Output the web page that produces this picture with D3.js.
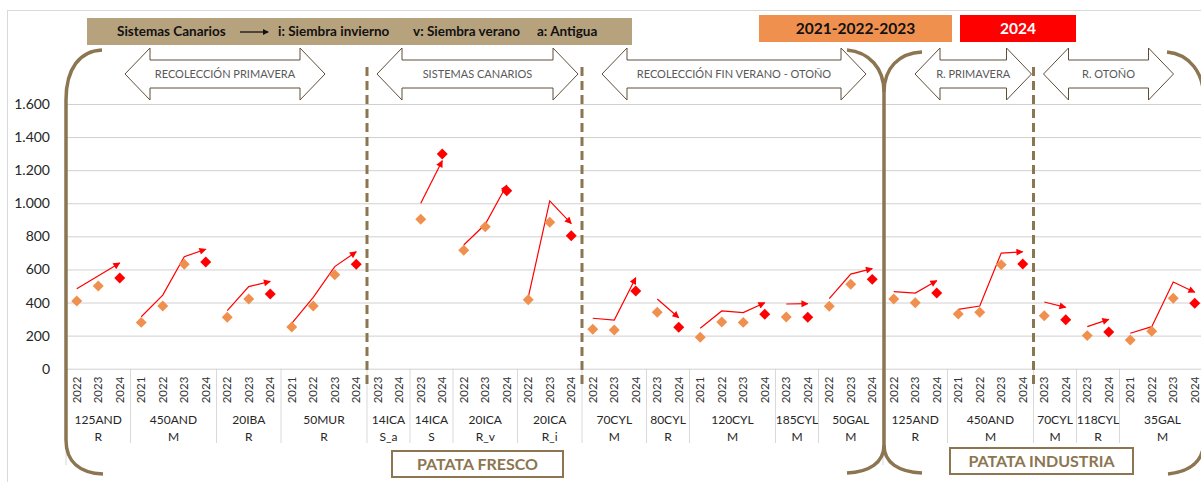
<!DOCTYPE html>
<html>
<head>
<meta charset="utf-8">
<script src="https://cdn.jsdelivr.net/npm/d3@7"></script>
<style>
  body { margin: 0; background: #fff; }
  svg { display: block; font-family: Lato, "Open Sans", sans-serif; }
</style>
</head>
<body>
<div id="chart"></div>
<script>
// category axis: two label lines per group + the years inside each group
const groupTop = ["125AND", "450AND", "20IBA", "50MUR", "14ICA", "14ICA", "20ICA", "20ICA", "70CYL",
  "80CYL", "120CYL", "185CYL", "50GAL", "125AND", "450AND", "70CYL", "118CYL", "35GAL"]
const groupBottom = ["R", "M", "R", "R", "S_a", "S", "R_v", "R_i", "M", "R", "M", "M", "M", "R", "M", "M", "R", "M"]
const groupYears = [
  [2022, 2023, 2024], [2021, 2022, 2023, 2024], [2022, 2023, 2024], [2021, 2022, 2023, 2024],
  [2023, 2024], [2023, 2024], [2022, 2023, 2024], [2022, 2023, 2024], [2022, 2023, 2024],
  [2023, 2024], [2021, 2022, 2023, 2024], [2023, 2024], [2022, 2023, 2024], [2022, 2023, 2024],
  [2021, 2022, 2023, 2024], [2023, 2024], [2023, 2024], [2021, 2022, 2023, 2024]
]
// diamond markers (2024 is the red one)
const pointValues = [
  [409, 500, 548], [280, 379, 631, 645], [311, 421, 451], [252, 379, 568, 631],
  [null, null], [903, 1298], [716, 858, 1076], [417, 885, 804], [238, 234, 470],
  [341, 250], [190, 282, 280, 329], [312, 311], [377, 510, 540], [421, 399, 457],
  [331, 341, 629, 633], [320, 296], [200, 222], [173, 226, 426, 395]
]
// red trend arrows drawn above the markers
const trendValues = [
  [483, null, 639], [314, 445, 677, 722], [351, 496, 528], [274, 431, 617, 707],
  [null, null], [1000, 1257], [748, 873, 1110], [431, 1014, 877], [305, 294, 550],
  [421, 308], [244, 349, 339, 399], [391, 393], [423, 572, 605], [466, 457, 532],
  [359, 379, 699, 707], [403, 371], [254, 298], [214, 254, 524, 462]
]
const yTicks = [0, 200, 400, 600, 800, 1000, 1200, 1400, 1600]

const sectionLabels = ["RECOLECCIÓN PRIMAVERA", "SISTEMAS CANARIOS", "RECOLECCIÓN FIN VERANO - OTOÑO", "R. PRIMAVERA", "R. OTOÑO"]
const sectionGroups = [[0, 3], [4, 7], [8, 12], [13, 14], [15, 17]]
const dashedAfter = [3, 7, 14]
const splitAfter = 12
const noteParts = ["i: Siembra invierno", "v: Siembra verano", "a: Antigua"]
const legendLabels = ["2021-2022-2023", "2024"]
const blockLabels = ["PATATA FRESCO", "PATATA INDUSTRIA"]

// layout
const width = 1201, height = 482
const plot = { left: 66, right: 1205.5, top: 104, bottom: 368.7 }
const sectionInset = [[59, 42], [10, 4], [20, 17], [32, 2], [10, 32]]
const noteX = [278, 413, 537]
const brown = "#8c7651", orange = "#f0904f", red = "#ff0000"

const svg = d3.select("#chart").append("svg")
  .attr("width", width)
  .attr("height", height)

svg.append("defs").append("marker")
  .attr("id", "head")
  .attr("viewBox", "0 0 10 10")
  .attr("refX", 9).attr("refY", 5)
  .attr("markerUnits", "userSpaceOnUse")
  .attr("markerWidth", 8).attr("markerHeight", 7)
  .attr("orient", "auto")
  .append("path").attr("d", "M0,0L10,5L0,10Z").attr("fill", red)

// outer frame
svg.append("rect")
  .attr("x", 7.5).attr("y", 10.5)
  .attr("width", 1200).attr("height", 480)
  .attr("fill", "none").attr("stroke", "#d9d9d9")

// flat category list
const cats = []
groupYears.forEach((ys, g) => ys.forEach((yr, i) => cats.push({ g, i, year: yr, key: g + "-" + yr })))

const x = d3.scaleBand().domain(cats.map(c => c.key)).range([plot.left, plot.right])
const y = d3.scaleLinear().domain([0, 1600]).range([plot.bottom, plot.top])
const bw = x.bandwidth()
const gStart = g => x(g + "-" + groupYears[g][0])
const gEnd = g => x(g + "-" + groupYears[g][groupYears[g].length - 1]) + bw

const es = d3.formatLocale({ decimal: ",", thousands: ".", grouping: [3], currency: ["", "€"] })

// value axis + gridlines
const yAxis = svg.append("g")
  .attr("transform", `translate(${plot.left},0)`)
  .call(d3.axisLeft(y).tickValues(yTicks).tickSize(-(plot.right - plot.left)).tickPadding(16).tickFormat(es.format(",d")))
yAxis.select(".domain").remove()
yAxis.selectAll(".tick line").attr("stroke", "#d0d0d0")
yAxis.selectAll(".tick text").attr("fill", "#262626").style("font-size", "14px").style("font-family", "Lato")

// category axis: years
svg.append("g").selectAll("text").data(cats).enter().append("text")
  .attr("transform", d => `translate(${x(d.key) + bw / 2},390) rotate(-90)`)
  .attr("text-anchor", "middle")
  .attr("dy", "0.35em")
  .attr("fill", "#333")
  .style("font-size", "11.5px")
  .text(d => d.year)

// group separators
const sep = svg.append("g").attr("stroke", "#d9d9d9")
groupYears.forEach((ys, g) => {
  if (g > 0) sep.append("line").attr("x1", gStart(g)).attr("x2", gStart(g)).attr("y1", plot.bottom).attr("y2", 443)
})
;[gStart(0), gEnd(splitAfter)].forEach(px => {
  sep.append("line").attr("x1", px).attr("x2", px).attr("y1", plot.bottom).attr("y2", 465)
})

// group labels
const gl = svg.append("g").attr("text-anchor", "middle").attr("fill", "#262626").style("font-size", "12px")
groupTop.forEach((name, g) => {
  const cx = (gStart(g) + gEnd(g)) / 2
  gl.append("text").attr("x", cx).attr("y", 420).attr("dy", "0.35em").text(name)
  gl.append("text").attr("x", cx).attr("y", 437).attr("dy", "0.35em").text(groupBottom[g])
})

// dashed dividers
dashedAfter.forEach(g => {
  svg.append("line")
    .attr("x1", gEnd(g)).attr("x2", gEnd(g))
    .attr("y1", 67).attr("y2", 388)
    .attr("stroke", brown).attr("stroke-width", 3)
    .attr("stroke-dasharray", "9,5")
})

// brackets
const mid = gEnd(splitAfter) + 1
const L = plot.left, R = 1204
const brackets = [
  `M${L + 36},50 C${L + 14},51 ${L},68 ${L},100 L${L},440 C${L},462 ${L + 14},473 ${L + 37},474`,
  `M${mid - 37},50 C${mid - 15},52 ${mid},68 ${mid},92 L${mid},445 C${mid},463 ${mid - 15},472 ${mid - 37},473`,
  `M${mid + 38},52 C${mid + 15},53 ${mid},68 ${mid},92 M${mid},445 C${mid},463 ${mid + 15},472 ${mid + 38},473`,
  `M${R - 37},52 C${R - 15},54 ${R},72 ${R},100 L${R},440 C${R},462 ${R - 15},472 ${R - 36},474`
]
svg.append("g").selectAll("path").data(brackets).enter().append("path")
  .attr("d", d => d)
  .attr("fill", "none")
  .attr("stroke", brown)
  .attr("stroke-width", 3.5)

// trend arrows
const line = d3.line().x(d => d[0]).y(d => d[1])
trendValues.forEach((vals, g) => {
  const pts = vals.map((v, i) => [v, i]).filter(d => d[0] != null)
    .map(d => [x(g + "-" + groupYears[g][d[1]]) + bw / 2, y(d[0])])
  if (pts.length < 2) return
  svg.append("path")
    .attr("d", line(pts))
    .attr("fill", "none")
    .attr("stroke", red)
    .attr("stroke-width", 1.2)
    .attr("marker-end", "url(#head)")
})

// diamond markers
const diamonds = []
pointValues.forEach((vals, g) => vals.forEach((v, i) => {
  if (v != null) diamonds.push({ key: g + "-" + groupYears[g][i], year: groupYears[g][i], v })
}))
svg.append("g").selectAll("path").data(diamonds).enter().append("path")
  .attr("transform", d => `translate(${x(d.key) + bw / 2},${y(d.v)}) rotate(45)`)
  .attr("d", d3.symbol(d3.symbolSquare, 60))
  .attr("fill", d => d.year === 2024 ? red : orange)

// section arrows (double headed)
const sec = svg.append("g")
sectionLabels.forEach((lab, k) => {
  const x0 = gStart(sectionGroups[k][0]) + sectionInset[k][0]
  const x1 = gEnd(sectionGroups[k][1]) - sectionInset[k][1]
  const hw = 25
  const p = [[x0, 74], [x0 + hw, 48], [x0 + hw, 60], [x1 - hw, 60], [x1 - hw, 48], [x1, 74],
    [x1 - hw, 100], [x1 - hw, 88], [x0 + hw, 88], [x0 + hw, 100]]
  sec.append("path")
    .attr("d", "M" + p.join("L") + "Z")
    .attr("fill", "#fff")
    .attr("stroke", "#5e4e37")
    .attr("stroke-width", 1)
  sec.append("text")
    .attr("x", (x0 + x1) / 2).attr("y", 74).attr("dy", "0.35em")
    .attr("text-anchor", "middle")
    .attr("fill", "#595959")
    .style("font-size", "11px")
    .text(lab)
})

// header note
svg.append("rect").attr("x", 87).attr("y", 18).attr("width", 545).attr("height", 27).attr("fill", "#b7a27e")
svg.append("text").attr("x", 117).attr("y", 31.5).attr("dy", "0.35em")
  .style("font-size", "13.5px").style("font-weight", "bold").attr("fill", "#111")
  .text("Sistemas Canarios")
svg.append("line").attr("x1", 240).attr("x2", 268).attr("y1", 32).attr("y2", 32)
  .attr("stroke", "#111").attr("stroke-width", 1.3)
svg.append("path").attr("d", "M263,29L269,32L263,35Z").attr("fill", "#111")
noteParts.forEach((t, i) => {
  svg.append("text").attr("x", noteX[i]).attr("y", 31.5).attr("dy", "0.35em")
    .style("font-size", "13.5px").style("font-weight", "bold").attr("fill", "#111")
    .text(t)
})

// year legend boxes
const legendBoxes = [{ x: 759, w: 193, fill: orange, color: "#111" }, { x: 960, w: 116, fill: red, color: "#fff" }]
legendBoxes.forEach((b, i) => {
  svg.append("rect").attr("x", b.x).attr("y", 15).attr("width", b.w).attr("height", 27).attr("fill", b.fill)
  svg.append("text").attr("x", b.x + b.w / 2).attr("y", 29).attr("dy", "0.35em")
    .attr("text-anchor", "middle").attr("fill", b.color)
    .style("font-size", "15.5px").style("font-weight", "bold")
    .text(legendLabels[i])
})

// bottom block labels
const blocks = [{ x: 392, w: 171, y: 451 }, { x: 950, w: 183, y: 448 }]
blocks.forEach((b, i) => {
  svg.append("rect").attr("x", b.x).attr("y", b.y).attr("width", b.w).attr("height", 26)
    .attr("fill", "#fff").attr("stroke", brown).attr("stroke-width", 2)
  svg.append("text").attr("x", b.x + b.w / 2).attr("y", b.y + 13.5).attr("dy", "0.35em")
    .attr("text-anchor", "middle").attr("fill", brown)
    .style("font-size", "16px").style("font-weight", "bold")
    .text(blockLabels[i])
})
</script>
</body>
</html>
